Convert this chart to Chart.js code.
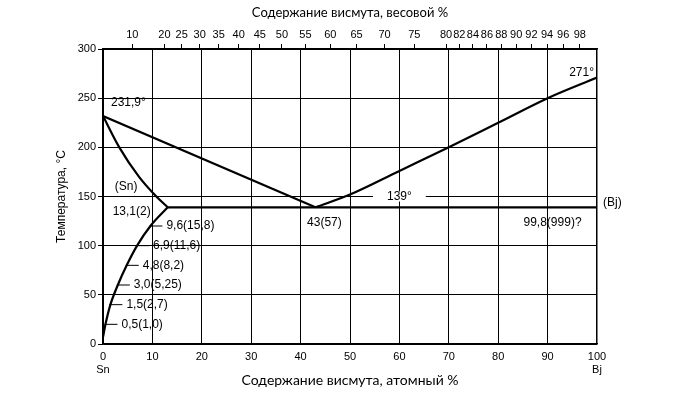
<!DOCTYPE html>
<html><head><meta charset="utf-8">
<script src="https://cdn.jsdelivr.net/npm/chart.js@4/dist/chart.umd.min.js"></script>
<style>html,body{margin:0;padding:0;background:#fff;}</style>
</head><body>
<canvas id="c" width="679" height="395"></canvas>
<script>
// ---- data ----
const atomicTicks = [0,10,20,30,40,50,60,70,80,90,100];
const tempTicks = [0,50,100,150,200,250,300];
const weightTicks = [10,20,25,30,35,40,45,50,55,60,65,70,75,80,82,84,86,88,90,92,94,96,98];
const massSn = 118.71, massBi = 208.98;

const liquidusLeftX = [0, 43];
const liquidusLeftT = [231.9, 139];
const liquidusRightX = [43, 50, 60, 70, 80, 90, 100];
const liquidusRightT = [139, 152, 176, 200, 225, 250, 271];
const solidusSnX = [0, 3.3, 7.3, 10.8, 13.1];
const solidusSnT = [231.9, 200, 170, 150, 139];
const solvusSnX = [0, 0.5, 1.5, 3.0, 4.8, 6.9, 9.6, 13.1];
const solvusSnT = [7, 20, 40, 60, 80, 100, 120, 139];
const solvusLabels = ['', '0,5(1,0)', '1,5(2,7)', '3,0(5,25)', '4,8(8,2)', '6,9(11,6)', '9,6(15,8)', ''];
const eutecticX = [13.1, 100];
const eutecticT = [139, 139];

function wtToAt(w){ const a = w/massBi, b = (100-w)/massSn; return 100*a/(a+b); }
function pts(xs, ts){ return xs.map((v,i)=>({x:v, y:ts[i]})); }

const TICKFONT = {family:'"Liberation Sans", Arial, sans-serif', size:11};
const ANNFONT = '12px "Liberation Sans", Arial, sans-serif';

// annotations: text, anchor (data), pixel offset, alignment
const notes = [
  {t:'231,9°', x:0, y:231.9, dx:8, dy:-13, a:'left'},
  {t:'271°', x:100, y:271, dx:-3, dy:-5, a:'right'},
  {t:'(Sn)', x:2.4, y:160, dx:0, dy:0, a:'left'},
  {t:'13,1(2)', x:13.1, y:139, dx:-17, dy:4, a:'right'},
  {t:'43(57)', x:43, y:139, dx:9, dy:15, a:'center'},
  {t:'99,8(999)?', x:91, y:139, dx:0, dy:15, a:'center'},
  {t:'(Bj)', x:100, y:139, dx:6, dy:-5, a:'left'},
];

const annotPlugin = {
  id:'annot',
  afterDatasetsDraw(chart){
    const {ctx, scales:{x, y}} = chart;
    ctx.save();
    ctx.font = ANNFONT;
    ctx.fillStyle = '#000';
    ctx.textBaseline = 'middle';
    notes.forEach(n=>{
      ctx.textAlign = n.a;
      ctx.fillText(n.t, x.getPixelForValue(n.x)+n.dx, y.getPixelForValue(n.y)+n.dy);
    });
    // 139° on the 150 gridline with white gap
    const px = x.getPixelForValue(60), py = y.getPixelForValue(150);
    const w = ctx.measureText('139°').width;
    ctx.fillStyle = '#fff';
    ctx.fillRect(px - w/2 - 14, py - 5, w + 28, 10);
    ctx.fillStyle = '#000';
    ctx.textAlign = 'center';
    ctx.fillText('139°', px, py);
    // solvus tick marks and labels
    ctx.lineWidth = 1;
    ctx.strokeStyle = '#000';
    ctx.textAlign = 'left';
    solvusSnX.forEach((v,i)=>{
      if(!solvusLabels[i]) return;
      const cx = x.getPixelForValue(v), cy = y.getPixelForValue(solvusSnT[i]);
      ctx.beginPath(); ctx.moveTo(cx-1, cy); ctx.lineTo(cx+12, cy); ctx.stroke();
      ctx.fillText(solvusLabels[i], cx+16, cy);
    });
    ctx.restore();
  }
};

const lineDs = (data, mono) => ({
  data, showLine:true, pointRadius:0, borderColor:'#000', borderWidth:2.2,
  cubicInterpolationMode: mono ? 'monotone' : 'default', tension:0, xAxisID:'x', yAxisID:'y'
});

new Chart(document.getElementById('c'), {
  type:'scatter',
  data:{ datasets:[
    lineDs(pts(liquidusLeftX, liquidusLeftT), false),
    lineDs(pts(liquidusRightX, liquidusRightT), true),
    lineDs(pts(solidusSnX, solidusSnT), true),
    lineDs(pts(solvusSnX, solvusSnT), true),
    lineDs(pts(eutecticX, eutecticT), false),
  ]},
  options:{
    responsive:false, animation:false,
    layout:{padding:{left:0, right:82, top:0, bottom:0}},
    plugins:{legend:{display:false}, tooltip:{enabled:false}},
    scales:{
      x:{
        type:'linear', position:'bottom', min:0, max:100,
        afterBuildTicks: s => { s.ticks = atomicTicks.map(v=>({value:v})); },
        afterFit: s => { s.height = 51; },
        ticks:{ font:TICKFONT, color:'#000', padding:6, maxRotation:0, autoSkip:false,
          callback: v => v===0 ? ['0','Sn'] : (v===100 ? ['100','Bj'] : String(v)) },
        grid:{ color:'#000', lineWidth: c => (c.tick && c.tick.value===100) ? 1.5 : 1, drawTicks:false },
        border:{ color:'#000', width:1.5 },
        title:{ display:true, text:'Содержание висмута, атомный %', font:{family:'Lato, "Noto Sans", sans-serif', size:14}, color:'#000', padding:{top:0,bottom:6} }
      },
      x2:{
        type:'linear', position:'top', min:0, max:100,
        afterBuildTicks: s => { s.ticks = weightTicks.map(w=>({value:wtToAt(w)})); },
        afterFit: s => { s.height = 49; },
        ticks:{ font:TICKFONT, color:'#000', padding:2, maxRotation:0, autoSkip:false,
          callback: (v,i) => String(weightTicks[i]) },
        grid:{ drawOnChartArea:false, drawTicks:true, tickLength:5, color:'#000' },
        border:{ color:'#000', width:1.5 },
        title:{ display:true, text:'Содержание висмута, весовой %', font:{family:'Lato, "Noto Sans", sans-serif', size:13}, color:'#000', padding:{top:5,bottom:0} }
      },
      y:{
        type:'linear', position:'left', min:0, max:300,
        afterBuildTicks: s => { s.ticks = tempTicks.map(v=>({value:v})); },
        afterFit: s => { s.width = 103; },
        ticks:{ font:TICKFONT, color:'#000', padding:2 },
        grid:{ color:'#000', lineWidth:1, drawTicks:true, tickLength:5 },
        border:{ color:'#000', width:1.5 },
        title:{ display:true, text:'Температура, °C', font:{family:'"Liberation Sans", Arial, sans-serif', size:12}, color:'#000', padding:{top:54,bottom:0} }
      }
    }
  },
  plugins:[annotPlugin]
});
</script>
</body></html>
